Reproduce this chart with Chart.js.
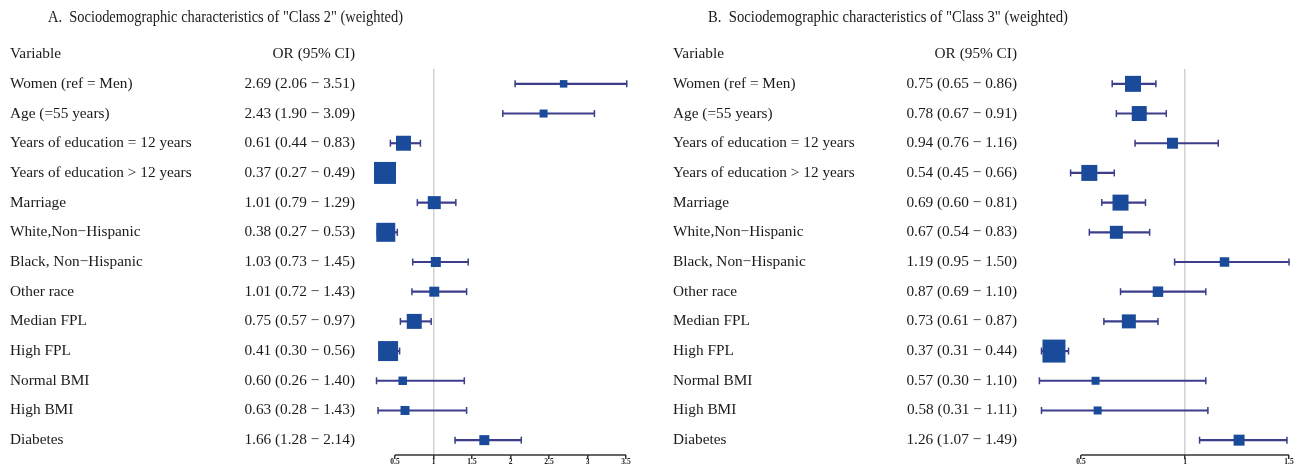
<!DOCTYPE html>
<html>
<head>
<meta charset="utf-8">
<script src="https://cdn.jsdelivr.net/npm/chart.js@4.4.1/dist/chart.umd.min.js"></script>
<style>
    body { margin: 0; background: #fff; }
    .panel { position: absolute; top: 0; }
</style>
</head>
<body>
<canvas id="chartA" class="panel" width="650" height="473" style="left:0"></canvas>
<canvas id="chartB" class="panel" width="650" height="473" style="left:650px"></canvas>
<script>
const variables = ['Women (ref = Men)', 'Age (=55 years)', 'Years of education = 12 years',
    'Years of education > 12 years', 'Marriage', 'White,Non\u2212Hispanic', 'Black, Non\u2212Hispanic',
    'Other race', 'Median FPL', 'High FPL', 'Normal BMI', 'High BMI', 'Diabetes'];

// Panel A - Class 2
const orA = [2.69, 2.43, 0.61, 0.37, 1.01, 0.38, 1.03, 1.01, 0.75, 0.41, 0.60, 0.63, 1.66];
const lowA = [2.06, 1.90, 0.44, 0.27, 0.79, 0.27, 0.73, 0.72, 0.57, 0.30, 0.26, 0.28, 1.28];
const highA = [3.51, 3.09, 0.83, 0.49, 1.29, 0.53, 1.45, 1.43, 0.97, 0.56, 1.40, 1.43, 2.14];
const weightA = [7.5, 8, 15, 22, 13, 19, 10, 10, 15, 20, 8.5, 9, 10];
const ticksA = [0.5, 1, 1.5, 2, 2.5, 3, 3.5];

// Panel B - Class 3
const orB = [0.75, 0.78, 0.94, 0.54, 0.69, 0.67, 1.19, 0.87, 0.73, 0.37, 0.57, 0.58, 1.26];
const lowB = [0.65, 0.67, 0.76, 0.45, 0.60, 0.54, 0.95, 0.69, 0.61, 0.31, 0.30, 0.31, 1.07];
const highB = [0.86, 0.91, 1.16, 0.66, 0.81, 0.83, 1.50, 1.10, 0.87, 0.44, 1.10, 1.11, 1.49];
const weightB = [16, 15, 11, 16, 16, 13, 9.5, 10.5, 14, 23, 8, 8, 11];
const ticksB = [0.5, 1, 1.5];

const boxColor = '#1a4b9b';
const lineColor = '#3c3e8c';
const serif = "'Liberation Serif', 'Times New Roman', serif";

// draws title, column headers, row text, x axis line and tick labels
const forestText = {
    id: 'forestText',
    afterDraw(chart, args, opts) {
        const ctx = chart.ctx;
        const yScale = chart.scales.y;
        const xScale = chart.scales.x;
        const bottom = chart.chartArea.bottom;
        ctx.save();
        ctx.fillStyle = '#1a1a1a';
        ctx.textBaseline = 'middle';

        ctx.font = '16px ' + serif;
        ctx.textAlign = 'left';
        ctx.fillText(opts.title, opts.titleX, 18, opts.titleWidth);

        ctx.font = '15.3px ' + serif;
        ctx.fillText('Variable', opts.labelX, 54);
        ctx.textAlign = 'right';
        ctx.fillText('OR (95% CI)', opts.orX, 54);

        variables.forEach((v, i) => {
            const y = yScale.getPixelForValue(i);
            ctx.textAlign = 'left';
            ctx.fillText(v, opts.labelX, y);
            ctx.textAlign = 'right';
            const txt = opts.or[i].toFixed(2) + ' (' + opts.low[i].toFixed(2) + ' \u2212 ' + opts.high[i].toFixed(2) + ')';
            ctx.fillText(txt, opts.orX, y);
        });

        // x axis line only over the labelled range
        const t = opts.ticks;
        ctx.strokeStyle = '#333';
        ctx.lineWidth = 1.5;
        ctx.beginPath();
        ctx.moveTo(xScale.getPixelForValue(t[0]), bottom);
        ctx.lineTo(xScale.getPixelForValue(t[t.length - 1]), bottom);
        ctx.stroke();

        ctx.font = 'bold 7.5px ' + serif;
        ctx.textAlign = 'center';
        ctx.fillStyle = '#222';
        t.forEach(v => ctx.fillText(String(v), xScale.getPixelForValue(v), bottom + 7));
        ctx.restore();
    }
};

function buildForest(canvasId, cfg) {
    const ctx = document.getElementById(canvasId).getContext('2d');
    return new Chart(ctx, {
        type: 'bar',
        data: {
            labels: variables,
            datasets: [
                {
                    type: 'scatter',
                    order: 1,
                    data: cfg.or.map((v, i) => ({ x: v, y: variables[i] })),
                    pointStyle: 'rect',
                    pointRadius: cfg.weight.map(w => w / Math.SQRT2),
                    pointHoverRadius: 0,
                    backgroundColor: boxColor,
                    borderColor: boxColor,
                    borderWidth: 0,
                    clip: false
                },
                {
                    type: 'scatter',
                    order: 2,
                    data: cfg.low.map((v, i) => ({ x: v, y: variables[i] }))
                        .concat(cfg.high.map((v, i) => ({ x: v, y: variables[i] }))),
                    pointStyle: 'line',
                    rotation: 90,
                    pointRadius: 3.5,
                    pointHoverRadius: 0,
                    borderColor: lineColor,
                    borderWidth: 1.5,
                    clip: false
                },
                {
                    type: 'bar',
                    order: 3,
                    data: cfg.low.map((v, i) => [v, cfg.high[i]]),
                    backgroundColor: lineColor,
                    barThickness: 1.5,
                    clip: false
                }
            ]
        },
        options: {
            indexAxis: 'y',
            responsive: false,
            animation: false,
            devicePixelRatio: 1,
            layout: { autoPadding: false, padding: cfg.padding },
            plugins: {
                legend: { display: false },
                tooltip: { enabled: false },
                forestText: cfg.text
            },
            scales: {
                y: { type: 'category', display: false, offset: true },
                x: {
                    type: 'linear',
                    min: cfg.min,
                    max: cfg.max,
                    afterBuildTicks: scale => { scale.ticks = cfg.ticks.map(v => ({ value: v })); },
                    border: { display: false },
                    grid: {
                        color: c => (c.tick && c.tick.value === 1) ? '#d2d2d2' : 'rgba(0,0,0,0)',
                        lineWidth: 1.5,
                        tickColor: '#333',
                        tickLength: 4
                    },
                    ticks: { display: false }
                }
            }
        },
        plugins: [forestText]
    });
}

buildForest('chartA', {
    or: orA, low: lowA, high: highA, weight: weightA, ticks: ticksA,
    min: 0.1, max: 3.7,
    padding: { left: 364.2, right: 8.6, top: 69, bottom: 14 },
    text: { title: 'A.  Sociodemographic characteristics of "Class 2" (weighted)', titleX: 48, titleWidth: 355,
            labelX: 10, orX: 355, or: orA, low: lowA, high: highA, ticks: ticksA }
});

buildForest('chartB', {
    or: orB, low: lowB, high: highB, weight: weightB, ticks: ticksB,
    min: 0.25, max: 1.55,
    padding: { left: 379, right: 0.6, top: 69, bottom: 14 },
    text: { title: 'B.  Sociodemographic characteristics of "Class 3" (weighted)', titleX: 58, titleWidth: 360,
            labelX: 23, orX: 367, or: orB, low: lowB, high: highB, ticks: ticksB }
});
</script>
</body>
</html>
